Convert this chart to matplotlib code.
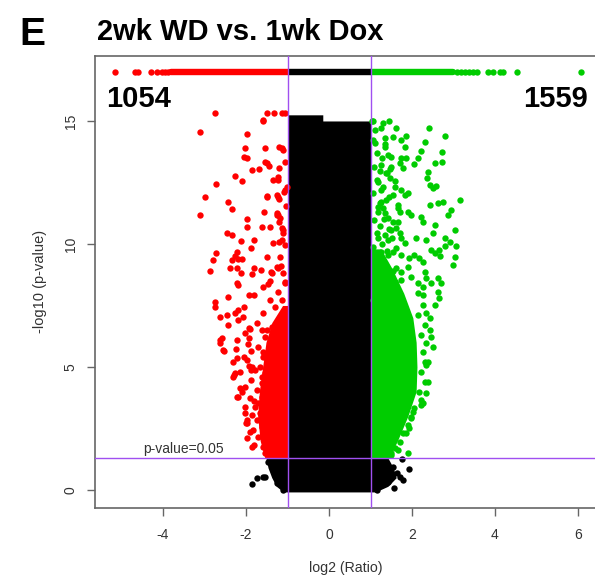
import matplotlib
matplotlib.use("Agg")
import matplotlib.pyplot as plt

plt.rcParams['font.family'] = ['Liberation Sans', 'DejaVu Sans']
plt.rcParams['axes.unicode_minus'] = False

# counts shown in the corners
n_down = 1054
n_up = 1559

# fold-change / p-value cutoffs
fc_cut = 1.0
p_line = 1.30103  # -log10(0.05)

# genes with p = 0, drawn as a strip at the top
strip_y = 17.0
strip_red_span = [-3.8, -1.0]
strip_black_span = [-1.0, 1.0]
strip_green_span = [1.0, 3.0]
strip_red_x = [-5.17, -4.67, -4.61, -4.30, -4.15, -4.03, -3.95, -3.88]
strip_green_x = [3.08, 3.18, 3.28, 3.38, 3.47, 3.56, 3.84, 3.96, 4.12, 4.20, 4.54, 6.07]

# dense non-significant core (outline of the solid black mass)
core_y = [-0.08, 0.15, 0.5, 0.9, 1.3, 1.3, 15.0, 15.0, 15.25]
core_left = [-1.10, -1.27, -1.38, -1.47, -1.52, -1.0, -1.0, -1.0, -1.0]
core_right = [1.12, 1.42, 1.62, 1.55, 1.42, 1.0, 1.0, -0.15, -0.15]

# dense down-regulated block next to the cutoff
red_band_y = [1.32, 2.0, 3.0, 4.0, 5.0, 6.0, 6.8, 7.5]
red_band_left = [-1.55, -1.66, -1.72, -1.68, -1.60, -1.52, -1.38, -1.12]

# dense up-regulated block next to the cutoff
green_band_y = [1.32, 2.0, 3.0, 4.0, 5.0, 6.0, 7.0, 8.0, 9.0, 9.8]
green_band_right = [1.45, 1.65, 1.90, 2.10, 2.12, 2.10, 2.02, 1.80, 1.52, 1.25]

# scattered down-regulated genes
red_x = [-2.76, -1.50, -1.32, -1.14, -1.06, -1.60, -3.10, -1.98, -2.02, -2.04,
         -1.98, -1.54, -1.45, -1.86, -1.69, -1.20, -1.10, -1.21, -2.27, -2.10,
         -1.22, -2.72, -2.99, -2.43, -2.35, -1.49, -1.25, -1.20, -1.08, -1.02,
         -3.10, -1.57, -1.25, -1.18, -1.20, -1.98, -1.98, -1.61, -1.14, -1.10,
         -2.45, -2.35, -2.12, -1.81, -1.89, -1.20, -2.73, -2.79, -2.22, -2.27,
         -2.35, -2.19, -2.09, -2.39, -2.87, -2.21, -2.12, -1.81, -1.86, -1.64,
         -1.41, -1.42, -1.22, -1.16, -2.21, -1.06,
         -2.20, -1.46, -2.43, -1.94, -1.82, -2.76, -2.75, -2.19, -2.04, -2.27,
         -2.63, -2.47, -2.19, -2.07, -2.43, -1.93, -2.02, -2.59, -2.63, -2.52,
         -2.22, -1.94, -2.25, -1.89, -2.22, -2.06, -1.98, -1.86, -1.78, -2.28,
         -2.14, -2.02, -2.10, -2.19, -1.90, -2.02, -2.00, -1.90, -1.82, -1.58,
         -1.62, -1.70,
         -1.14, -1.06, -1.22, -1.06, -1.22, -1.04, -1.22, -1.10, -1.14, -1.06,
         -1.18, -1.26, -1.10, -1.06, -1.22, -1.14, -1.30, -1.06, -1.22, -1.38,
         -1.10, -1.50,
         -1.58, -1.54, -1.50, -1.34, -1.50, -1.26, -1.42, -1.34, -1.50, -1.38,
         -1.58, -1.42, -1.58, -1.74,
         -1.62, -1.54, -1.70, -1.58, -1.66, -1.54, -1.62, -1.74, -1.62, -1.78,
         -1.66, -1.74, -1.62, -1.70, -1.58, -1.54,
         -2.31, -2.22, -1.98, -1.98, -1.86, -2.63, -2.55, -2.31, -2.27, -2.14,
         -2.02, -1.98, -1.88, -1.92, -1.85, -1.95, -1.84, -1.90, -1.80, -1.88]
red_y = [15.31, 15.31, 15.31, 15.31, 15.31, 15.00, 14.57, 14.48, 13.90, 13.55,
         13.48, 13.32, 13.18, 13.00, 13.05, 13.96, 13.82, 13.10, 12.78, 12.55,
         12.60, 12.43, 11.90, 11.70, 11.41, 11.95, 11.99, 11.83, 12.10, 12.30,
         11.17, 11.30, 11.18, 11.07, 10.88, 11.03, 10.70, 10.70, 10.64, 10.43,
         10.43, 10.37, 10.11, 10.18, 9.82, 10.09, 9.65, 9.35, 9.69, 9.51,
         9.35, 9.39, 9.39, 9.04, 8.90, 9.01, 8.81, 9.01, 8.77, 8.93,
         8.87, 8.51, 9.01, 9.12, 8.43, 8.47,
         8.33, 8.37, 7.86, 7.93, 7.93, 7.66, 7.45, 7.32, 7.45, 7.18,
         7.05, 7.11, 6.91, 7.05, 6.71, 6.57, 6.37, 6.17, 5.96, 5.66,
         6.10, 6.17, 5.72, 5.66, 5.35, 5.42, 5.28, 5.01, 4.88, 4.67,
         4.81, 4.20, 4.00, 3.79, 3.73, 3.12, 2.71, 2.37, 1.83, 5.62,
         4.61, 3.52,
         13.89, 13.35, 12.74, 12.20, 11.92, 11.54, 11.18, 10.57, 10.16, 9.96,
         9.48, 9.08, 8.81, 8.40, 8.06, 7.72, 7.45, 7.18, 6.84, 6.64,
         6.37, 6.50,
         15.04, 13.89, 13.28, 12.60, 11.92, 11.25, 10.70, 10.03, 9.48, 8.81,
         8.27, 7.72, 7.18, 6.78,
         6.50, 6.23, 5.83, 5.42, 5.01, 4.74, 4.34, 4.07, 3.79, 3.39,
         3.12, 2.85, 2.57, 2.17, 1.76, 1.49,
         4.61, 3.79, 2.71, 2.10, 1.76, 6.10, 5.69, 5.22, 4.74, 4.13,
         3.39, 2.85, 4.45, 5.05, 3.05, 5.95, 2.45, 6.55, 3.62, 4.88]

# scattered up-regulated genes
green_x = [1.44, 1.06, 1.26, 1.62, 2.40, 2.80, 1.54, 1.74, 1.86, 2.31,
           1.12, 1.34, 1.82, 2.22, 2.14, 2.72, 1.42, 1.50, 1.74, 1.86,
           2.06, 2.55, 2.72, 1.26, 1.50, 1.22, 1.38, 1.46, 1.70, 1.78,
           2.39, 2.37, 1.18, 1.30, 2.43, 2.51, 2.59, 1.58, 1.74, 1.82,
           1.90, 1.54, 1.38, 1.26, 1.30, 1.18, 1.34, 1.66, 1.70, 2.43,
           2.63, 2.75, 3.15, 2.95, 2.87, 1.90, 1.98, 2.22, 2.27, 1.42,
           1.54, 1.66, 2.55, 3.04, 1.50, 1.62, 1.70, 1.74, 1.18, 1.34,
           1.42, 2.10, 2.34, 2.51, 2.79, 2.91, 2.80, 3.07, 1.82, 2.47,
           2.55, 2.67, 2.64, 3.03, 2.99, 1.26, 1.42, 1.54, 1.74, 1.94,
           2.18, 2.06, 2.27, 1.18, 1.34, 1.10, 1.62, 1.74, 1.90, 2.32,
           2.34, 2.63, 2.69, 2.47, 1.26, 1.42, 1.58, 1.74, 1.98, 2.14,
           2.27,
           2.63, 2.64, 2.27, 2.14, 2.55, 2.34, 2.43, 2.43, 2.47, 2.51,
           2.39, 2.34, 2.39, 2.34, 2.27, 2.22, 2.02, 1.98, 1.94, 1.86,
           1.90, 1.66, 1.50,
           1.03, 1.11, 1.07, 1.15, 1.08, 1.16, 1.07, 1.19, 1.08, 1.15,
           1.07, 1.16, 1.08, 1.19, 1.07,
           2.27, 2.14, 2.31, 2.22, 2.34, 2.27, 2.31, 2.22, 2.31, 2.18,
           2.22, 2.06, 1.98, 1.90, 1.78, 1.70, 1.58, 1.50,
           1.30, 1.35, 1.28, 1.40, 1.25, 1.45, 1.32, 1.45, 1.28, 1.40,
           1.30, 1.55, 1.60, 1.22, 1.52, 1.36, 1.62, 1.24, 1.48, 1.66]
green_y = [15.01, 15.01, 14.70, 14.70, 14.70, 14.40, 14.36, 14.23, 14.40, 14.13,
           14.09, 13.96, 13.96, 13.78, 13.51, 13.73, 13.62, 13.55, 13.51, 13.48,
           13.24, 13.28, 13.32, 13.21, 13.14, 12.97, 12.87, 12.67, 13.28, 13.08,
           12.91, 12.67, 12.53, 12.33, 12.40, 12.26, 12.37, 12.33, 12.20, 11.99,
           12.06, 11.99, 11.79, 11.72, 11.45, 11.31, 11.25, 11.59, 11.31, 11.59,
           11.65, 11.70, 11.79, 11.38, 11.18, 11.31, 11.18, 11.11, 10.91, 11.05,
           10.91, 10.91, 10.77, 10.57, 10.57, 10.64, 10.43, 10.23, 10.23, 10.37,
           10.16, 10.23, 10.16, 10.43, 10.23, 10.09, 9.93, 9.93, 10.03, 9.76,
           9.62, 9.52, 9.76, 9.49, 9.15, 9.69, 9.55, 9.69, 9.55, 9.42,
           9.42, 9.55, 9.28, 9.28, 9.15, 9.01, 9.01, 8.87, 9.08, 8.87,
           8.61, 8.61, 8.40, 8.40, 8.74, 8.61, 8.47, 8.54, 8.67, 8.40,
           8.26,
           8.06, 7.79, 7.93, 8.00, 7.52, 7.18, 6.98, 6.50, 6.23, 5.83,
           5.22, 5.08, 4.40, 3.93, 3.52, 3.46, 3.18, 2.91, 2.51, 2.30,
           1.49, 1.63, 1.42,
           15.01, 14.63, 14.23, 13.69, 13.14, 12.60, 12.06, 11.52, 10.98, 10.43,
           9.89, 9.35, 8.81, 8.27, 7.72,
           7.52, 7.11, 6.71, 6.30, 5.96, 5.62, 5.22, 4.81, 4.40, 4.00,
           3.66, 3.32, 2.98, 2.64, 2.30, 1.96, 1.70, 1.49,
           14.90, 14.30, 13.50, 12.90, 12.20, 11.90, 11.00, 10.60, 10.00, 9.70,
           9.00, 8.90, 12.55, 11.65, 10.25, 14.05, 9.85, 10.75, 13.05, 11.45]

# non-significant genes outside the core
black_x = [-1.85, -1.74, -1.58, -1.54, -1.46, -1.26, -1.10,
           1.75, 1.94, 1.71, 1.57, 1.43, 1.79, 1.15, 1.63, 1.55]
black_y = [0.24, 0.47, 0.54, 0.51, 1.15, 0.27, -0.02,
           1.25, 0.84, 0.54, 0.07, 0.34, 0.41, 0.00, 0.68, 0.95]

RED = '#FF0000'
GREEN = '#00CC00'
BLACK = '#000000'
LINE = '#A050F0'
DOT = 21
DOT_LW = 4.6

fig = plt.figure(figsize=(5.95, 5.8), dpi=100)
ax = fig.add_axes([0.1597, 0.1247, 0.8437, 0.7787])

# black core + outliers
ax.fill_betweenx(core_y, core_left, core_right, color=BLACK, lw=0)
ax.scatter(black_x, black_y, s=DOT, c=BLACK, linewidths=0)

# dense coloured blocks
ax.fill_betweenx(red_band_y, red_band_left, [-fc_cut] * len(red_band_y), color=RED, lw=0)
ax.fill_betweenx(green_band_y, [fc_cut] * len(green_band_y), green_band_right, color=GREEN, lw=0)

# scattered coloured genes
ax.scatter(red_x, red_y, s=DOT, c=RED, linewidths=0)
ax.scatter(green_x, green_y, s=DOT, c=GREEN, linewidths=0)

# strip of p = 0 genes
ax.plot(strip_red_span, [strip_y] * 2, color=RED, lw=DOT_LW, solid_capstyle='round')
ax.plot(strip_green_span, [strip_y] * 2, color=GREEN, lw=DOT_LW, solid_capstyle='round')
ax.plot(strip_black_span, [strip_y] * 2, color=BLACK, lw=DOT_LW, solid_capstyle='butt')
ax.scatter(strip_red_x, [strip_y] * len(strip_red_x), s=DOT, c=RED, linewidths=0)
ax.scatter(strip_green_x, [strip_y] * len(strip_green_x), s=DOT, c=GREEN, linewidths=0)

# cutoff lines
ax.axvline(-fc_cut, color=LINE, lw=1, zorder=5)
ax.axvline(fc_cut, color=LINE, lw=1, zorder=5)
ax.axhline(p_line, color=LINE, lw=1, zorder=5)
ax.text(-4.48, p_line + 0.06, 'p-value=0.05', fontsize=10, color='#333333',
        ha='left', va='bottom')

# counts
ax.text(-5.37, 15.55, str(n_down), fontsize=21, fontweight='bold', ha='left', va='baseline')
ax.text(6.24, 15.55, str(n_up), fontsize=21, fontweight='bold', ha='right', va='baseline')

ax.set_xlim(-5.64, 6.46)
ax.set_ylim(-0.72, 17.64)
ax.set_xticks([-4, -2, 0, 2, 4, 6])
ax.set_yticks([0, 5, 10, 15])
for sp in ax.spines.values():
    sp.set_color('#666666')
    sp.set_linewidth(1.2)
ax.tick_params(axis='both', direction='out', length=5.5, width=1, color='#666666',
               labelsize=10, labelcolor='#333333')
ax.tick_params(axis='x', pad=9)
ax.tick_params(axis='y', pad=7)
for lab in ax.get_yticklabels():
    lab.set_rotation(90)
    lab.set_va('center')

ax.set_xlabel('log2 (Ratio)', fontsize=10.2, color='#333333', labelpad=14)
ax.set_ylabel('-log10 (p-value)', fontsize=10.5, color='#333333', labelpad=12)

fig.text(32 / 595, 1 - 45 / 580, 'E', fontsize=28, fontweight='bold', ha='center', va='baseline')
fig.text(97 / 595, 1 - 40 / 580, '2wk WD vs. 1wk Dox', fontsize=21, fontweight='bold',
         ha='left', va='baseline')

fig.savefig('out.png', dpi=100)
